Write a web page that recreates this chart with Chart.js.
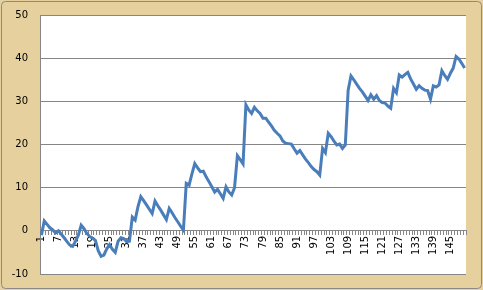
<!DOCTYPE html>
<html>
<head>
<meta charset="utf-8">
<script src="https://cdn.jsdelivr.net/npm/chart.js@4"></script>
<style>
  html, body { margin: 0; padding: 0; background: #fff; }
  #wrap { width: 483px; height: 290px; }
</style>
</head>
<body>
<div id="wrap"><canvas id="chart" width="483" height="290"></canvas></div>
<script>
// values, one per category (1..150)
const values = [
  -1.0, 2.3, 1.5, 0.7, 0.2, -0.5, 0.0, -0.8, -1.6, -2.5,
  -3.3, -3.6, -2.4, -1.0, 1.3, 0.5, -0.6, -1.3, -1.7, -2.2,
  -4.6, -5.9, -5.6, -4.2, -3.2, -4.3, -5.0, -2.4, -1.6, -1.8,
  -2.5, -2.4, 3.2, 2.5, 5.6, 7.9, 7.0, 6.0, 5.0, 4.0,
  6.9, 5.8, 4.8, 3.7, 2.6, 5.2, 4.2, 3.1, 2.1, 1.1,
  0.2, 11.0, 10.6, 13.2, 15.6, 14.6, 13.7, 13.8, 12.5, 11.4,
  10.2, 9.0, 9.6, 8.6, 7.5, 10.2, 9.0, 8.3, 10.0, 17.4,
  16.5, 15.5, 29.2, 28.0, 27.2, 28.6, 27.8, 27.2, 26.1, 26.1,
  25.2, 24.3, 23.3, 22.6, 22.0, 20.8, 20.3, 20.2, 20.1, 19.0,
  18.0, 18.6, 17.6, 16.6, 15.8, 14.9, 14.2, 13.7, 12.9, 19.1,
  18.1, 22.6, 21.8, 20.8, 19.9, 20.1, 19.1, 19.9, 32.6, 35.9,
  35.0, 34.0, 33.0, 32.2, 31.2, 30.2, 31.5, 30.5, 31.3, 30.2,
  29.7, 29.6, 28.9, 28.4, 33.0, 32.0, 36.1, 35.6, 36.2, 36.7,
  35.2, 34.0, 32.8, 33.6, 33.0, 32.6, 32.5, 30.5, 33.6, 33.3,
  33.8, 37.1, 36.0, 35.1, 36.5, 37.7, 40.4, 39.8, 38.8, 37.7
];
const categories = values.map((v, i) => String(i + 1));
const yTicks = [-10, 0, 10, 20, 30, 40, 50];
const labelStep = 6;

const axisFont = { family: 'DejaVu Sans', size: 10 };

function roundRectPath(ctx, x, y, w, h, r) {
  ctx.beginPath();
  ctx.moveTo(x + r, y);
  ctx.lineTo(x + w - r, y);
  ctx.quadraticCurveTo(x + w, y, x + w, y + r);
  ctx.lineTo(x + w, y + h - r);
  ctx.quadraticCurveTo(x + w, y + h, x + w - r, y + h);
  ctx.lineTo(x + r, y + h);
  ctx.quadraticCurveTo(x, y + h, x, y + h - r);
  ctx.lineTo(x, y + r);
  ctx.quadraticCurveTo(x, y, x + r, y);
  ctx.closePath();
}

// tan "parchment" frame, white plot area, grey outer border
const parchmentBg = {
  id: 'parchmentBg',
  beforeDraw(chart) {
    const { ctx, chartArea: a, width, height } = chart;
    ctx.save();
    ctx.fillStyle = '#e6d09d';
    ctx.fillRect(0, 0, width, height);
    ctx.fillStyle = '#ffffff';
    ctx.fillRect(a.left, a.top, a.right - a.left, a.bottom - a.top);
    ctx.restore();
  },
  afterDraw(chart) {
    const ctx = chart.ctx;
    ctx.save();
    ctx.strokeStyle = '#8a8a8a';
    ctx.lineWidth = 1;
    roundRectPath(ctx, 1.5, 1.5, 480, 287, 4);
    ctx.stroke();
    ctx.restore();
  }
};

new Chart(document.getElementById('chart'), {
  type: 'line',
  data: {
    labels: categories,
    datasets: [{
      data: values,
      borderColor: '#4a7ebb',
      borderWidth: 3,
      pointRadius: 0,
      tension: 0,
      fill: false
    }]
  },
  options: {
    responsive: false,
    animation: false,
    layout: { padding: { left: 0, top: 15, right: 17, bottom: 16 } },
    plugins: { legend: { display: false }, tooltip: { enabled: false } },
    scales: {
      x: {
        type: 'category',
        position: { y: 0 },
        offset: true,
        grid: { display: true, drawOnChartArea: false, drawTicks: true, tickLength: 4, color: '#868686', offset: true },
        border: { display: true, color: '#868686' },
        ticks: {
          autoSkip: false,
          minRotation: 90,
          maxRotation: 90,
          padding: 1,
          color: '#000',
          font: axisFont,
          callback: (v, i) => (i % labelStep === 0 ? categories[i] : '')
        }
      },
      y: {
        min: -10,
        max: 50,
        afterBuildTicks: scale => { scale.ticks = yTicks.map(v => ({ value: v })); },
        afterFit: scale => {
          scale.width = 40;
          // label padding should not push the plot area in
          scale.paddingTop = 0;
          scale.paddingBottom = 0;
        },
        grid: { color: '#868686', drawTicks: false },
        border: { display: true, color: '#868686' },
        ticks: { padding: 12, color: '#000', font: axisFont }
      }
    }
  },
  plugins: [parchmentBg]
});
</script>
</body>
</html>
